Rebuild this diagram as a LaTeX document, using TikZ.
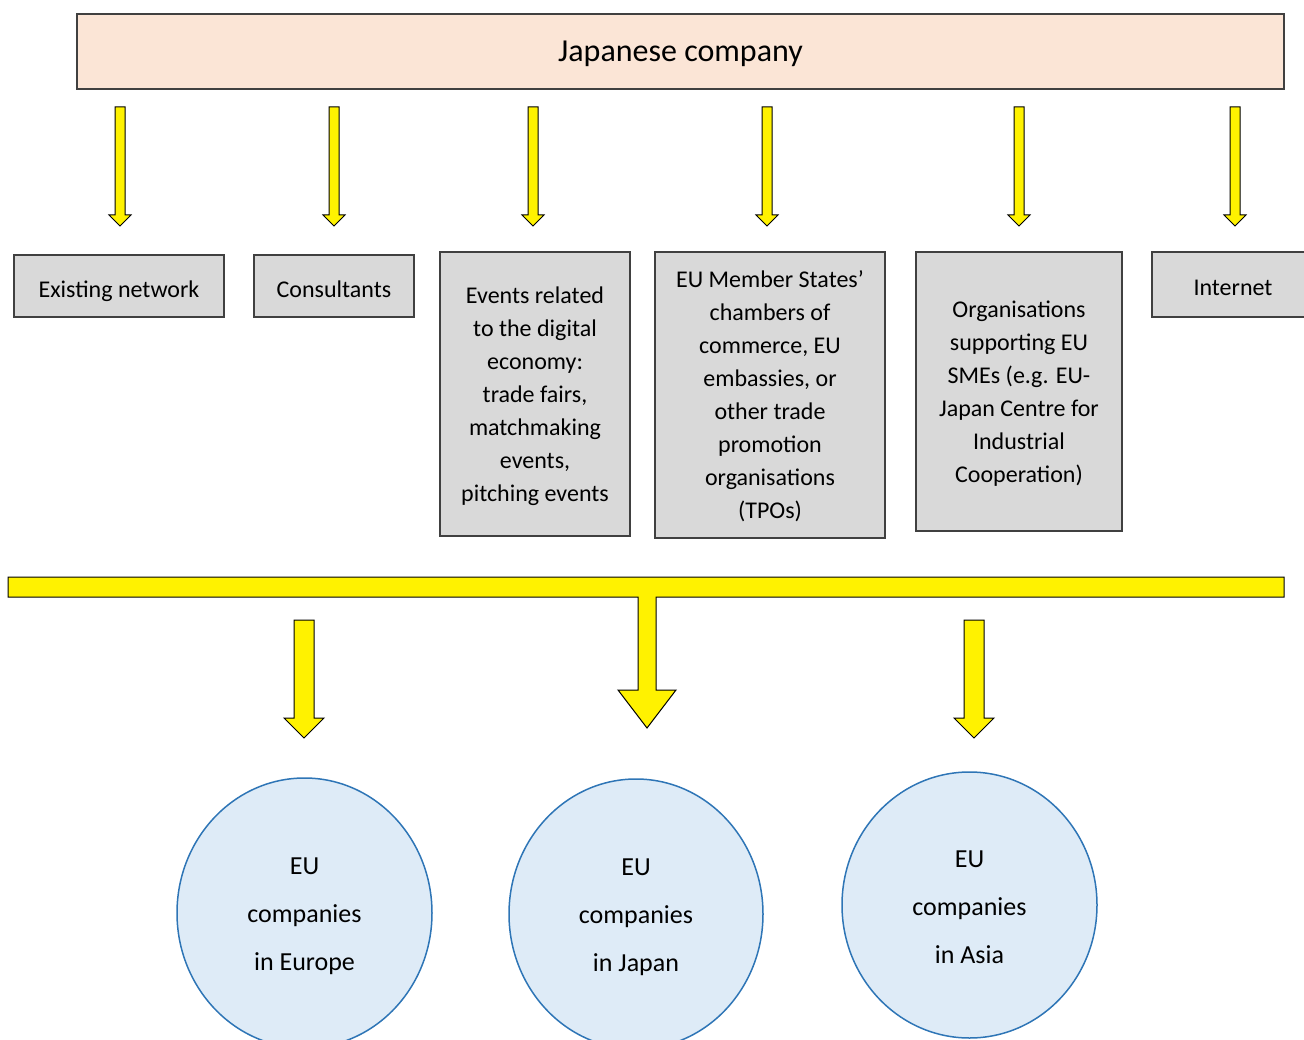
\documentclass[tikz,border=0pt]{standalone}
\usepackage{fontspec}
\setmainfont{Carlito}
\usetikzlibrary{shapes.geometric}
\definecolor{peach}{HTML}{FBE5D6}
\definecolor{boxgray}{HTML}{D9D9D9}
\definecolor{edgegray}{HTML}{404040}
\definecolor{cfill}{HTML}{DEEBF7}
\definecolor{cedge}{HTML}{2E75B6}
\newcommand{\blkarrow}[6]{%
  \draw[yarrow] ({#1-#5},#2) -- ({#1+#5},#2) -- ({#1+#5},#3) -- ({#1+#6},#3)
    -- (#1,#4) -- ({#1-#6},#3) -- ({#1-#5},#3) -- cycle;}
\newcommand{\liftline}[1]{\rule{0pt}{#1}}
\begin{document}
\begin{tikzpicture}[x=1pt,y=-1pt,
  greybox/.style={draw=edgegray, line width=1.3pt, fill=boxgray, align=center,
    inner sep=0pt, font=\fontsize{24}{33}\selectfont},
  onebox/.style={greybox, execute at begin node={\rule[-7pt]{0pt}{37pt}}},
  yarrow/.style={draw=black, line width=1pt, fill=yellow, line join=miter},
  company/.style={ellipse, draw=cedge, line width=1.5pt, fill=cfill, align=center,
    inner sep=0pt, font=\fontsize{26}{48}\selectfont}]
\useasboundingbox (0,0) rectangle (1304,1040);

% top box
\node[draw=edgegray, line width=1.3pt, fill=peach, minimum width=1207, minimum height=75,
  inner sep=0pt, font=\fontsize{32}{38}\selectfont,
  execute at begin node={\rule[-9pt]{0pt}{38pt}}] (jp) at (680.5,51.5) {Japanese company};

% top arrows
\blkarrow{120}{107}{215}{226}{5}{11}
\blkarrow{334}{107}{215}{226}{5}{11}
\blkarrow{533}{107}{215}{226}{5}{11}
\blkarrow{767}{107}{215}{226}{5}{11}
\blkarrow{1019}{107}{215}{226}{5}{11}
\blkarrow{1235}{107}{215}{226}{5}{11}

% channel boxes
\node[onebox, minimum width=210, minimum height=62] (ex) at (119,286) {Existing network};
\node[onebox, minimum width=160, minimum height=62] (con) at (334,286) {Consultants};
\node[greybox, minimum width=190, minimum height=284] (ev) at (535,394)
  {\liftline{22pt}Events related\\to the digital\\economy:\\trade fairs,\\matchmaking\\events,\\pitching events};
\node[greybox, minimum width=230, minimum height=286] (ms) at (770,395)
  {\liftline{20pt}EU Member States’\\chambers of\\commerce, EU\\embassies, or\\other trade\\promotion\\organisations\\(TPOs)};
\node[greybox, minimum width=206, minimum height=279] (org) at (1019,391.5)
  {\liftline{21pt}Organisations\\supporting EU\\SMEs (e.g. EU-\\Japan Centre for\\Industrial\\Cooperation)};
\node[onebox, minimum width=162, minimum height=65] (inet) at (1233,284.5) {Internet};

% T bar with central arrow
\draw[yarrow] (8,577) -- (1284,577) -- (1284,597) -- (656,597) -- (656,690) -- (676,690)
  -- (647,728) -- (618,690) -- (638,690) -- (638,597) -- (8,597) -- cycle;

% side arrows
\blkarrow{304}{620}{718}{738}{10}{20}
\blkarrow{974}{620}{718}{738}{10}{20}

% target circles
\node[company, minimum width=255, minimum height=270] (eu1) at (304.5,913)
  {\liftline{24pt}EU\\companies\\in Europe};
\node[company, minimum width=254, minimum height=270] (eu2) at (636,914)
  {\liftline{24pt}EU\\companies\\in Japan};
\node[company, minimum width=255, minimum height=266] (eu3) at (969.5,905)
  {\liftline{22pt}EU\\companies\\in Asia};
\end{tikzpicture}
\end{document}
